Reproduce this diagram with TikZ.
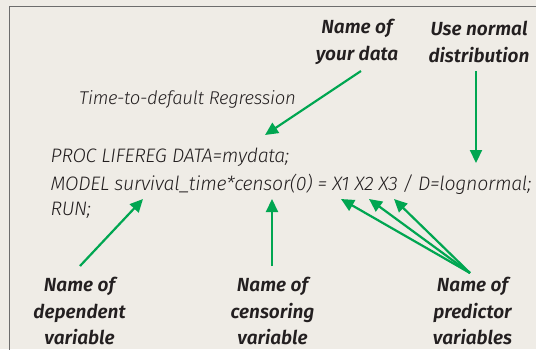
\documentclass[tikz,border=0pt]{standalone}
\usepackage{fontspec}
\setmainfont{Fira Sans}
\newfontfamily\codefont[LetterSpace=-1.4]{Fira Sans Light}
\newfontfamily\notefont{Fira Sans SemiBold}
\usetikzlibrary{arrows.meta}
\definecolor{paper}{HTML}{EFECE6}
\definecolor{frame}{HTML}{6D6D6D}
\definecolor{callout}{HTML}{00A651}
\definecolor{ink}{HTML}{231F20}
\tikzset{
  x=1pt, y=-1pt,
  note/.style={font=\fontsize{19}{26.5}\selectfont\notefont\itshape, text=ink, align=center, inner sep=0pt},
  code/.style={font=\fontsize{19.5}{25.5}\selectfont\codefont\itshape, text=ink, anchor=west, inner sep=0pt},
  pointer/.style={draw=callout, line width=2.2pt, -{Triangle[length=13pt,width=12pt]}},
}
\begin{document}
\begin{tikzpicture}
\fill[paper] (0,0) rectangle (536,349);
\useasboundingbox (0,0) rectangle (536,349);
% open frame: only top and left edges fall inside the page
\draw[frame, line width=1.3pt] (540,6.5) -- (9.5,6.5) -- (9.5,352);

% title and code listing
\node[code, font=\fontsize{18.5}{24}\selectfont\codefont\itshape] (title) at (79,99) {Time-to-default Regression};
\node[code] (l1) at (50.5,157.5) {PROC LIFEREG DATA=mydata;};
\node[code] (l2) at (50.5,184.5) {MODEL survival\_time*censor(0) = X1 X2 X3 / D=lognormal;};
\node[code] (l3) at (50.5,210.5) {RUN;};

% callout labels
\node[note] (data) at (357,42) {Name of\\your data};
\node[note] (dist) at (479,42) {Use normal\\distribution};
\node[note] (dep) at (79.5,311) {Name of\\dependent\\variable};
\node[note] (cens) at (272.5,311) {Name of\\censoring\\variable};
\node[note] (pred) at (472.5,311) {Name of\\predictor\\variables};

% pointer ends
\coordinate (dataS) at (361,71);
\coordinate (dataT) at (265,135);
\coordinate (distS) at (476,71);
\coordinate (distT) at (476,163);
\coordinate (depS) at (80,266);
\coordinate (depT) at (143,199);
\coordinate (censS) at (272,266);
\coordinate (censT) at (272,199);
\coordinate (predS) at (470,273);
\coordinate (x1T) at (341,199);
\coordinate (x2T) at (369,199);
\coordinate (x3T) at (394,199);

\draw[pointer] (dataS) -- (dataT);
\draw[pointer] (distS) -- (distT);
\draw[pointer] (depS) -- (depT);
\draw[pointer] (censS) -- (censT);
\draw[pointer] (predS) -- (x1T);
\draw[pointer] (predS) -- (x2T);
\draw[pointer] (predS) -- (x3T);
\end{tikzpicture}
\end{document}
